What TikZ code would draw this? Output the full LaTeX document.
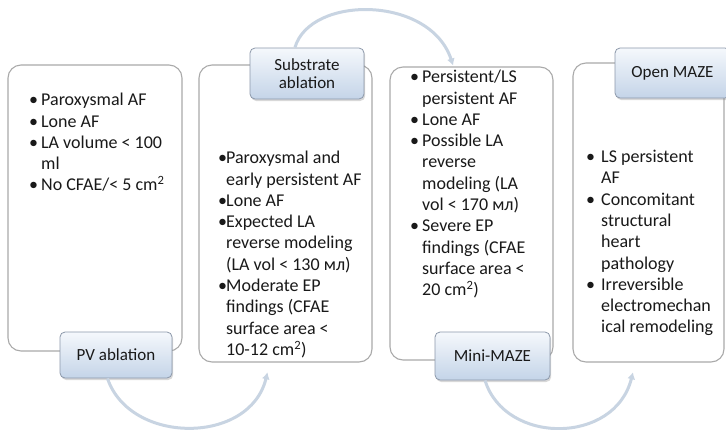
\documentclass[tikz,border=0pt]{standalone}
\usepackage{fontspec}
\setmainfont{Carlito}
\usetikzlibrary{arrows.meta,shadows,calc}
\definecolor{boxline}{RGB}{170,170,170}
\definecolor{lbltop}{RGB}{245,248,252}
\definecolor{lblbot}{RGB}{196,212,232}
\definecolor{lblline}{RGB}{140,152,170}
\definecolor{arcc}{RGB}{200,212,226}
\definecolor{txt}{RGB}{25,25,25}
\newcommand\bitm[2]{\makebox[#1][l]{\textbullet}#2}
\newcommand\citm[2]{\hspace*{#1}#2}
\begin{document}
\begin{tikzpicture}[x=1pt,y=-1pt,
  bigbox/.style={draw=boxline,line width=1.1pt,fill=white,rounded corners=13pt,inner sep=0pt},
  bodytext/.style={anchor=north west,inner sep=0pt,align=left,text=txt,font=\fontsize{18}{21.3}\selectfont},
  lbl/.style={draw=lblline,line width=0.8pt,rounded corners=5pt,top color=lbltop,bottom color=lblbot,
    drop shadow={opacity=0.3,shadow xshift=1.2pt,shadow yshift=-2pt},
    text=txt,align=center,inner sep=0pt,font=\fontsize{17}{18.5}\selectfont},
  arcline/.style={draw=arcc,line width=3pt,-{Latex[length=7pt,width=8pt]}}]
\fill[white] (0,0) rectangle (726,429);
\useasboundingbox (0,0) rectangle (726,429);

% big boxes
\node[bigbox,minimum width=174pt,minimum height=286pt] (b1) at (95,208) {};
\node[bigbox,minimum width=173pt,minimum height=297pt] (b2) at (285.5,213.5) {};
\node[bigbox,minimum width=163pt,minimum height=293pt] (b3) at (471.5,213.5) {};
\node[bigbox,minimum width=151pt,minimum height=299pt] (b4) at (648.5,212.5) {};

% texts
\node[bodytext] (t1) at (29,93) {\bitm{12pt}{Paroxysmal AF}\\\bitm{12pt}{Lone AF}\\\bitm{12pt}{LA volume < 100}\\\citm{12pt}{ml}\\\bitm{12pt}{No CFAE/< 5 cm\textsuperscript{2}}};
\node[bodytext] (t2) at (218,151) {\bitm{8pt}{Paroxysmal and}\\\citm{8pt}{early persistent AF}\\\bitm{8pt}{Lone AF}\\\bitm{8pt}{Expected LA}\\\citm{8pt}{reverse modeling}\\\citm{8pt}{(LA vol < 130 мл)}\\\bitm{8pt}{Moderate EP}\\\citm{8pt}{findings (CFAE}\\\citm{8pt}{surface area <}\\\citm{8pt}{10-12 cm\textsuperscript{2})}};
\node[bodytext] (t3) at (410,70) {\bitm{12pt}{Persistent/LS}\\\citm{12pt}{persistent AF}\\\bitm{12pt}{Lone AF}\\\bitm{12pt}{Possible LA}\\\citm{12pt}{reverse}\\\citm{12pt}{modeling (LA}\\\citm{12pt}{vol < 170 мл)}\\\bitm{12pt}{Severe EP}\\\citm{12pt}{findings (CFAE}\\\citm{12pt}{surface area <}\\\citm{12pt}{20 cm\textsuperscript{2})}};
\node[bodytext] (t4) at (586,150) {\bitm{15pt}{LS persistent}\\\citm{15pt}{AF}\\\bitm{15pt}{Concomitant}\\\citm{15pt}{structural}\\\citm{15pt}{heart}\\\citm{15pt}{pathology}\\\bitm{15pt}{Irreversible}\\\citm{15pt}{electromechan}\\\citm{15pt}{ical remodeling}};

% labels
\node[lbl,minimum width=112pt,minimum height=46pt] (pv) at (116,355) {PV ablation};
\node[lbl,minimum width=114pt,minimum height=51pt] (sub) at (307,73.5) {Substrate\\ablation};
\node[lbl,minimum width=115pt,minimum height=48pt] (mini) at (492.5,356) {Mini-MAZE};
\node[lbl,minimum width=115pt,minimum height=50pt] (open) at (672.5,73) {Open MAZE};

% arcs
\draw[arcline,shorten >=10pt] (pv.-110) .. controls (130,445) and (250,445) .. (b2.-96);
\draw[arcline,shorten >=1pt] (sub.115) .. controls (310,-5) and (430,-5) .. (b3.97);
\draw[arcline,shorten >=10pt] (mini.-107) .. controls (505,445) and (615,445) .. (b4.-95);
\end{tikzpicture}
\end{document}
